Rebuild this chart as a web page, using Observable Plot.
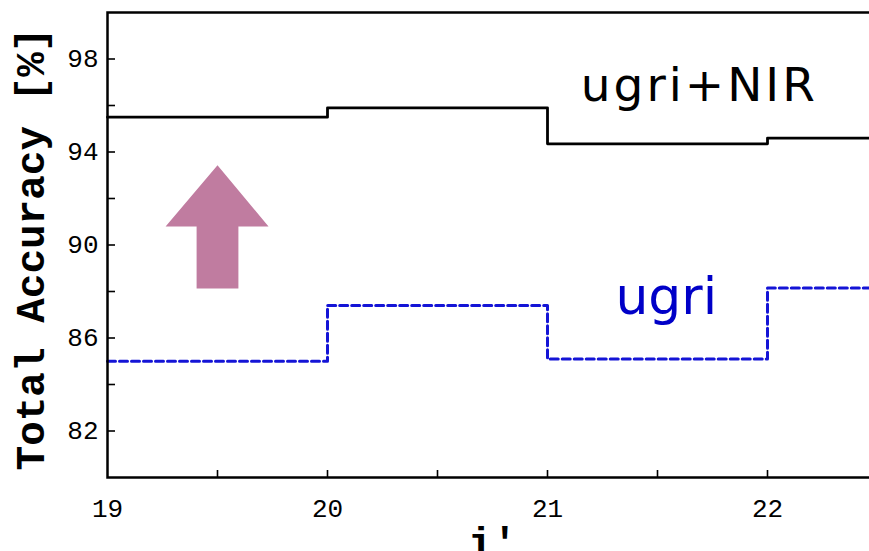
<!DOCTYPE html>
<html>
<head>
<meta charset="utf-8">
<script src="https://cdn.jsdelivr.net/npm/d3@7"></script>
<script src="https://cdn.jsdelivr.net/npm/@observablehq/plot@0.6"></script>
<style>
  html, body { margin: 0; padding: 0; background: #fff; overflow: hidden; }
  #chart svg { display: block; }
</style>
</head>
<body>
<div id="chart"></div>
<script>
// Magnitude bin edges (i') and accuracy per bin; the last edge repeats the final value
const magEdges = [19, 20, 21, 22, 22.5];
const accuracyNIR = [95.5, 95.9, 94.35, 94.6, 94.6];
const accuracyUgri = [85.0, 87.4, 85.1, 88.15, 88.15];

// Tick positions and labels
const yTickValues = [82, 84, 86, 88, 90, 92, 94, 96, 98];
const yLabelValues = [82, 86, 90, 94, 98];
const xTickValues = [19.5, 20, 20.5, 21, 21.5, 22];
const xLabelValues = [19, 20, 21, 22];

// Improvement arrow outline in data units (i', accuracy)
const arrowX = [19.5, 19.732, 19.595, 19.595, 19.405, 19.405, 19.264, 19.5];
const arrowY = [93.43, 90.8, 90.8, 88.13, 88.13, 90.8, 90.8, 93.43];

const nirRows = magEdges.map((m, i) => ({mag: m, acc: accuracyNIR[i]}));
const ugriRows = magEdges.map((m, i) => ({mag: m, acc: accuracyUgri[i]}));
const arrowRows = arrowX.map((x, i) => ({x, y: arrowY[i]}));

const mono = "'Liberation Mono', 'DejaVu Sans Mono', monospace";
const sans = "'DejaVu Sans', sans-serif";

const chart = Plot.plot({
  width: 869,
  height: 551,
  marginLeft: 107,
  marginRight: -8,
  marginTop: 12,
  marginBottom: 74,
  style: {fontFamily: mono, fontSize: "26px", color: "#000", background: "#fff"},
  x: {domain: [19, 22.5], label: null},
  y: {domain: [80, 100], label: null},
  marks: [
    // arrow
    Plot.line(arrowRows, {x: "x", y: "y", fill: "#c07ca0", stroke: "none", curve: "linear"}),
    // accuracy curves
    Plot.line(ugriRows, {x: "mag", y: "acc", curve: "step-after", stroke: "#1414d6", strokeWidth: 3, strokeDasharray: "8,4"}),
    Plot.line(nirRows, {x: "mag", y: "acc", curve: "step-after", stroke: "#000", strokeWidth: 2.8}),
    // inward ticks
    Plot.axisY(yTickValues, {anchor: "left", tickSize: -8, tickFormat: () => "", label: null, strokeWidth: 1.6}),
    Plot.axisX(xTickValues, {anchor: "bottom", tickSize: -7, tickFormat: () => "", label: null, strokeWidth: 1.6}),
    // tick labels
    Plot.axisY(yLabelValues, {anchor: "left", tickSize: 0, tickPadding: 9, tickFormat: d3.format("d"), label: null, fontFamily: mono, fontSize: 26}),
    Plot.axisX(xLabelValues, {anchor: "bottom", tickSize: 0, tickPadding: 21, tickFormat: d3.format("d"), label: null, fontFamily: mono, fontSize: 26}),
    // frame
    Plot.frame({stroke: "#000", strokeWidth: 2.5}),
    // axis titles
    Plot.text(["Total Accuracy [%]"], {frameAnchor: "left", textAnchor: "middle", rotate: -90, dx: -77, dy: 4, fontFamily: mono, fontWeight: "bold", fontSize: 41, fill: "#000"}),
    Plot.text(["i'"], {frameAnchor: "bottom", dy: 49, lineAnchor: "top", fontFamily: mono, fontWeight: "bold", fontSize: 41, fill: "#000"}),
    // series labels
    Plot.text(["ugri+NIR"], {x: [21.69], y: [96.85], fontFamily: sans, fontSize: 47, fill: "#000"}),
    Plot.text(["ugri"], {x: [21.54], y: [87.75], fontFamily: sans, fontSize: 52, fill: "#0000c8"})
  ]
});

// widen the tracking of the combined-survey label
d3.select(chart).selectAll("text")
  .filter(function() { return this.textContent === "ugri+NIR"; })
  .style("letter-spacing", "3px");

document.getElementById("chart").appendChild(chart);
</script>
</body>
</html>
